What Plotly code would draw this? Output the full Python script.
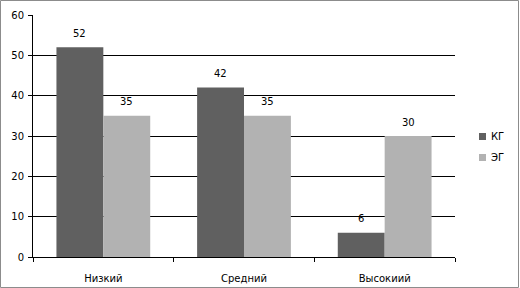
import plotly.graph_objects as go

categories = ["Низкий", "Средний", "Высокиий"]
kg_values = [52, 42, 6]
eg_values = [35, 35, 30]
series_names = ["КГ", "ЭГ"]
y_ticks = [0, 10, 20, 30, 40, 50, 60]

W, H = 520, 288
ml, mr, mt, mb = 33, 65, 15, 31
pw = W - ml - mr
ph = H - mt - mb

colors = ["#606060", "#b2b2b2"]
fig = go.Figure()
for name, vals, c in zip(series_names, [kg_values, eg_values], colors):
    fig.add_trace(go.Bar(x=categories, y=vals, name=name, showlegend=False,
                         marker=dict(color=c, line=dict(width=0))))

bargap = 1/3
bar_px = pw / 3 * (1 - bargap) / 2
for i, vals in enumerate([kg_values, eg_values]):
    for cat, v in zip(categories, vals):
        fig.add_annotation(x=cat, y=v, text=str(v), showarrow=False, xref="x", yref="y",
                           xshift=(i - 0.5) * bar_px, yshift=14,
                           font=dict(size=10, color="#000000"))

def px_x(p):
    return (p - ml) / pw

def px_y(p):
    return 1 - (p - mt) / ph

# legend (square + label)
leg_y = [136.5, 157.5]
for name, c, yc in zip(series_names, colors, leg_y):
    fig.add_shape(type="rect", xref="paper", yref="paper",
                  x0=px_x(479), x1=px_x(486), y0=px_y(yc + 3.5), y1=px_y(yc - 3.5),
                  line=dict(width=0), fillcolor=c)
    fig.add_annotation(x=px_x(489), y=px_y(yc), xref="paper", yref="paper", text=name,
                       showarrow=False, xanchor="left", yanchor="middle",
                       font=dict(size=10, color="#000000"))

# outer border
fig.add_shape(type="rect", xref="paper", yref="paper",
              x0=px_x(0.5), x1=px_x(W - 1.5),
              y0=px_y(H - 0.5), y1=px_y(0.5),
              line=dict(color="#8c8c8c", width=1), fillcolor="rgba(0,0,0,0)")

fig.update_layout(
    width=W, height=H, margin=dict(l=ml, r=mr, t=mt, b=mb, autoexpand=False),
    paper_bgcolor="white", plot_bgcolor="white",
    barmode="group", bargap=bargap, bargroupgap=0,
    font=dict(family="DejaVu Sans", size=10, color="#000000"),
    showlegend=False,
    xaxis=dict(showline=True, linecolor="black", linewidth=1, ticks="outside", ticklen=4,
               tickcolor="black", tickson="boundaries", ticklabelstandoff=12, showgrid=False,
               automargin=False),
    yaxis=dict(range=[0, 60], tickvals=y_ticks, showline=True, linecolor="black", linewidth=1,
               ticks="outside", ticklen=4, tickcolor="black", showgrid=True, gridcolor="black",
               gridwidth=1, zeroline=False, ticklabelstandoff=2, automargin=False),
)
fig.write_html("out.html", config={"displayModeBar": False},
               post_script="document.body.style.margin='0';document.body.style.overflow='hidden';")
